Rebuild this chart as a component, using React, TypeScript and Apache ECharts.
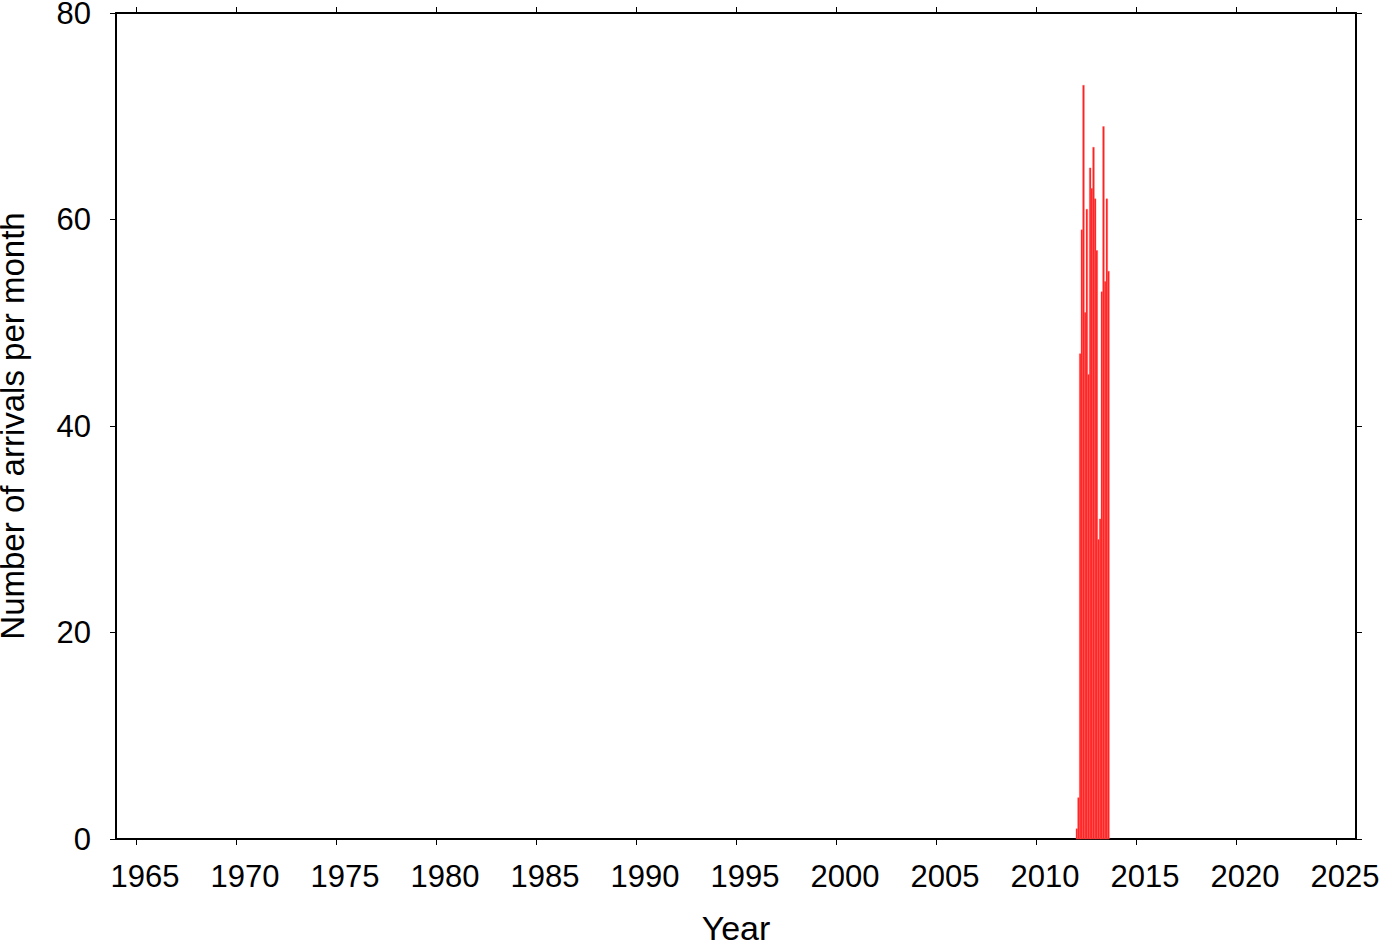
import React, { useEffect, useRef } from "react";
import * as echarts from "echarts";

const monthStarts: string[] = [
  "2012-01", "2012-02", "2012-03", "2012-04", "2012-05", "2012-06",
  "2012-07", "2012-08", "2012-09", "2012-10", "2012-11", "2012-12",
  "2013-01", "2013-02", "2013-03", "2013-04", "2013-05", "2013-06", "2013-07", "2013-08",
];
const arrivals: number[] = [1, 4, 47, 59, 73, 51, 61, 45, 65, 63, 67, 62, 57, 29, 31, 53, 69, 54, 62, 55];
const yearTicks: number[] = [1965, 1970, 1975, 1980, 1985, 1990, 1995, 2000, 2005, 2010, 2015, 2020, 2025];
const yTicks: number[] = [0, 20, 40, 60, 80];

const FONT = "'Liberation Sans', Arial, Helvetica, sans-serif";

export default function App() {
  const ref = useRef<HTMLDivElement>(null);
  useEffect(() => {
    if (!ref.current) return;
    const chart = echarts.init(ref.current, null, { renderer: "svg" });
    const data = monthStarts.map((m, i) => {
      const [y, mo] = m.split("-").map(Number);
      const start = y + (mo - 1) / 12;
      return [start, start + 1 / 12, arrivals[i]];
    });
    const axisLine = { show: true, onZero: false, lineStyle: { color: "#000", width: 2 } };
    const tickStyle = { color: "#000", width: 1 };
    chart.setOption({
      animation: false,
      grid: { left: 116, top: 13, right: 26, bottom: 103, containLabel: false, outerBoundsMode: "none" },
      xAxis: [
        {
          type: "value",
          min: 1964,
          max: 2026,
          position: "bottom",
          axisLine,
          axisTick: { show: true, length: 6, inside: false, lineStyle: tickStyle, customValues: yearTicks },
          axisLabel: {
            show: true,
            customValues: yearTicks,
            color: "#000",
            fontSize: 31,
            fontFamily: FONT,
            margin: 22,
            padding: [0, 0, 0, 18],
            formatter: (v: number) => String(v),
          },
          splitLine: { show: false },
          name: "Year",
          nameLocation: "middle",
          nameGap: 76,
          nameTextStyle: { color: "#000", fontSize: 34, lineHeight: 26, fontFamily: FONT },
        },
        {
          type: "value",
          min: 1964,
          max: 2026,
          position: "top",
          axisLine,
          axisTick: { show: true, length: 6, inside: false, lineStyle: tickStyle, customValues: yearTicks },
          axisLabel: { show: false },
          splitLine: { show: false },
        },
      ],
      yAxis: [
        {
          type: "value",
          min: 0,
          max: 80,
          interval: 20,
          position: "left",
          axisLine,
          axisTick: { show: true, length: 6, inside: false, lineStyle: tickStyle },
          axisLabel: {
            show: true,
            customValues: yTicks,
            color: "#000",
            fontSize: 31,
            lineHeight: 24,
            fontFamily: FONT,
            margin: 25,
          },
          splitLine: { show: false },
          name: "Number of arrivals per month",
          nameLocation: "middle",
          nameGap: 92,
          nameRotate: 90,
          nameTextStyle: { color: "#000", fontSize: 33, lineHeight: 24, fontFamily: FONT },
        },
        {
          type: "value",
          min: 0,
          max: 80,
          interval: 20,
          position: "right",
          axisLine,
          axisTick: { show: true, length: 6, inside: false, lineStyle: tickStyle },
          axisLabel: { show: false },
          splitLine: { show: false },
        },
      ],
      series: [
        {
          type: "custom",
          xAxisIndex: 0,
          yAxisIndex: 0,
          data,
          encode: { x: [0, 1], y: 2 },
          renderItem: (params: any, api: any) => {
            const p0 = api.coord([api.value(0), api.value(2)]);
            const p1 = api.coord([api.value(1), 0]);
            return {
              type: "rect",
              shape: { x: p0[0], y: p0[1], width: p1[0] - p0[0], height: p1[1] - p0[1] },
              style: { fill: "#ff1a1a", stroke: "#ff6060", lineWidth: 0.4 },
            };
          },
        },
      ],
    });
    return () => chart.dispose();
  }, []);
  return <div ref={ref} style={{ width: 1382, height: 942, position: "absolute", left: 0, top: 0 }} />;
}
